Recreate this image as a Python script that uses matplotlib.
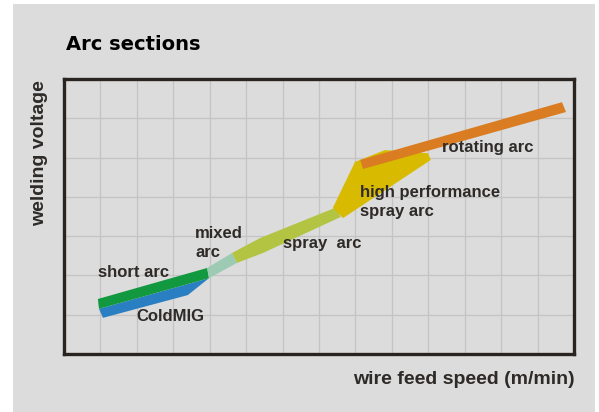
import matplotlib
matplotlib.use("Agg")
import matplotlib.pyplot as plt
from matplotlib.patches import Polygon, Rectangle

# ---- data: arc sections as regions in (wire feed speed, welding voltage) grid units ----
short_arc_x = [0.93, 3.93, 3.98, 0.96]
short_arc_y = [1.40, 2.19, 1.93, 1.15]

coldmig_x = [0.96, 3.98, 3.40, 1.07]
coldmig_y = [1.15, 1.93, 1.50, 0.92]

mixed_x = [3.93, 4.61, 4.75, 3.98]
mixed_y = [2.19, 2.57, 2.32, 1.93]

spray_x = [4.61, 5.38, 7.44, 7.60, 5.46, 4.75]
spray_y = [2.57, 2.95, 3.72, 3.49, 2.57, 2.32]

hp_spray_x = [7.38, 7.99, 8.81, 9.99, 10.07, 7.66]
hp_spray_y = [3.72, 4.89, 5.19, 5.11, 4.94, 3.46]

rotating_x = [8.13, 13.67, 13.78, 8.21]
rotating_y = [4.94, 6.41, 6.16, 4.71]

sections = [
    ("coldmig", coldmig_x, coldmig_y, "#2a7fc2"),
    ("short", short_arc_x, short_arc_y, "#12993f"),
    ("mixed", mixed_x, mixed_y, "#9ccab2"),
    ("spray", spray_x, spray_y, "#b3c443"),
    ("hp", hp_spray_x, hp_spray_y, "#d8bb00"),
    ("rotating", rotating_x, rotating_y, "#d97c22"),
]

labels = ["short arc", "ColdMIG", "mixed\narc", "spray  arc",
          "high performance\nspray arc", "rotating arc"]
label_x = [0.93, 2.00, 3.60, 6.01, 8.13, 10.38]
label_y = [2.27, 1.15, 3.26, 3.01, 4.30, 5.45]

x_cells = 14
y_cells = 7

title = "Arc sections"
xlabel = "wire feed speed (m/min)"
ylabel = "welding voltage"

W, H = 599, 412
fig = plt.figure(figsize=(W / 100, H / 100), dpi=100, facecolor="white")
fig.patches.append(Rectangle((13 / W, 0), (595 - 13) / W, (412 - 4) / H,
                             transform=fig.transFigure, facecolor="#dcdcdc",
                             edgecolor="none", zorder=-10))

ax = fig.add_axes([64 / W, (H - 354) / H, (574 - 64) / W, (354 - 79) / H])
ax.set_facecolor("#dcdcdc")
ax.set_xlim(0, x_cells)
ax.set_ylim(0, y_cells)
ax.set_xticks(range(1, x_cells))
ax.set_yticks(range(1, y_cells))
ax.tick_params(length=0, labelbottom=False, labelleft=False)
ax.grid(True, color="#c4c4c4", linewidth=0.9)
ax.set_axisbelow(True)
for s in ax.spines.values():
    s.set_linewidth(2.4)
    s.set_color("#2a2420")

for name, xs, ys, col in sections:
    ax.add_patch(Polygon(list(zip(xs, ys)), closed=True, facecolor=col,
                         edgecolor="none", zorder=3))

txtc = "#2e2a28"
for lab, lx, ly in zip(labels, label_x, label_y):
    ax.text(lx, ly, lab, fontsize=12, fontweight="bold", color=txtc,
            family="Liberation Sans", va="top", ha="left", zorder=4,
            linespacing=1.3)

fig.text(66 / W, 1 - 45 / H, title, fontsize=14, fontweight="bold",
         color="black", family="DejaVu Sans", va="center", ha="left")
fig.text(575 / W, 1 - 380 / H, xlabel, fontsize=14, fontweight="bold",
         color=txtc, family="Liberation Sans", va="center", ha="right")
fig.text(40 / W, 1 - 153 / H, ylabel, fontsize=14, fontweight="bold",
         color=txtc, family="Liberation Sans", va="center", ha="center",
         rotation=90)

fig.savefig("out.png", dpi=100, facecolor="white")
